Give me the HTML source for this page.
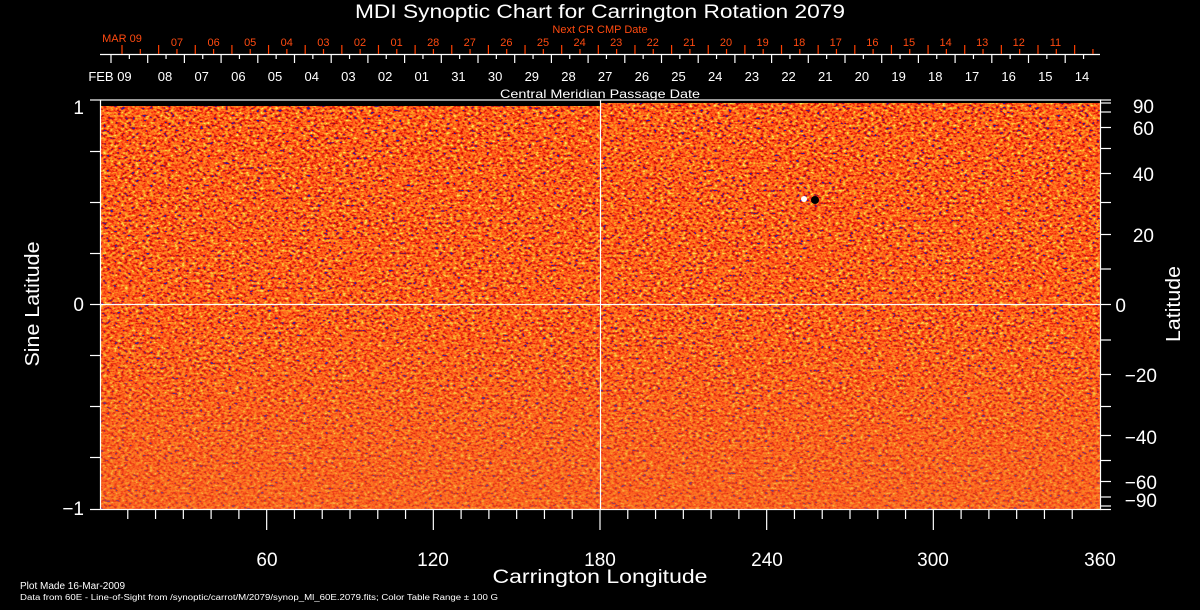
<!DOCTYPE html>
<html><head><meta charset="utf-8"><style>
html,body{margin:0;padding:0;background:#000;}
svg{display:block;}
text{font-family:"Liberation Sans",sans-serif;}
</style></head><body>
<svg width="1200" height="610" viewBox="0 0 1200 610" xmlns="http://www.w3.org/2000/svg">
<defs>
<filter id="tex" x="100" y="100" width="1000" height="410" filterUnits="userSpaceOnUse" color-interpolation-filters="sRGB">
<feTurbulence type="fractalNoise" baseFrequency="0.28 0.4" numOctaves="2" seed="7" result="n"/>
<feColorMatrix in="n" type="matrix" values="1.9 0 0 0 -0.45  1.9 0 0 0 -0.45  1.9 0 0 0 -0.45  0 0 0 0 1" result="g"/>
<feComponentTransfer in="g">
<feFuncR type="discrete" tableValues="0.15 0.6 0.82 0.88 0.92 0.95 1 1 1 1 1 1 1 0.98 0.95 1"/>
<feFuncG type="discrete" tableValues="0.1 0.05 0.05 0.1 0.15 0.2 0.27 0.33 0.4 0.45 0.5 0.55 0.6 0.68 0.76 0.88"/>
<feFuncB type="discrete" tableValues="0.7 0.08 0.03 0.04 0.05 0.06 0.08 0.1 0.1 0.12 0.12 0.12 0.14 0.15 0.18 0.35"/>
</feComponentTransfer>
</filter>
<linearGradient id="bot" x1="0" y1="0" x2="0" y2="1">
<stop offset="0" stop-color="#f06a28" stop-opacity="0"/>
<stop offset="0.55" stop-color="#f06a28" stop-opacity="0.1"/>
<stop offset="1" stop-color="#f56a28" stop-opacity="0.5"/>
</linearGradient>
</defs>

<rect x="100" y="100" width="1000" height="409" fill="#e85a20" filter="url(#tex)"/>
<rect x="100" y="100" width="1000" height="409" fill="url(#bot)"/>
<rect x="100" y="100" width="500" height="6" fill="#000"/>
<rect x="600" y="100" width="500" height="3" fill="#000"/>
<circle cx="804" cy="199" r="3" fill="#fff"/>
<circle cx="815" cy="200" r="4" fill="#000"/>

<g stroke="#fff" stroke-width="1.2" fill="none">
<rect x="100.5" y="100" width="1000" height="409.5"/>
<line x1="600.5" y1="100" x2="600.5" y2="509"/>
<line x1="100" y1="304.5" x2="1100" y2="304.5"/>
<line x1="90" y1="100" x2="100" y2="100"/>
<line x1="90" y1="151.5" x2="100" y2="151.5"/>
<line x1="90" y1="202.5" x2="100" y2="202.5"/>
<line x1="90" y1="253.5" x2="100" y2="253.5"/>
<line x1="90" y1="304.5" x2="100" y2="304.5"/>
<line x1="90" y1="355.5" x2="100" y2="355.5"/>
<line x1="90" y1="406.5" x2="100" y2="406.5"/>
<line x1="90" y1="457.5" x2="100" y2="457.5"/>
<line x1="90" y1="509.5" x2="100" y2="509.5"/>
<line x1="1100" y1="100" x2="1111" y2="100"/>
<line x1="1100" y1="103" x2="1111" y2="103"/>
<line x1="1100" y1="112" x2="1111" y2="112"/>
<line x1="1100" y1="127.5" x2="1111" y2="127.5"/>
<line x1="1100" y1="148.5" x2="1111" y2="148.5"/>
<line x1="1100" y1="173.5" x2="1111" y2="173.5"/>
<line x1="1100" y1="202.5" x2="1111" y2="202.5"/>
<line x1="1100" y1="234.5" x2="1111" y2="234.5"/>
<line x1="1100" y1="269" x2="1111" y2="269"/>
<line x1="1100" y1="304.5" x2="1111" y2="304.5"/>
<line x1="1100" y1="340" x2="1111" y2="340"/>
<line x1="1100" y1="374.5" x2="1111" y2="374.5"/>
<line x1="1100" y1="406.5" x2="1111" y2="406.5"/>
<line x1="1100" y1="435.5" x2="1111" y2="435.5"/>
<line x1="1100" y1="460.5" x2="1111" y2="460.5"/>
<line x1="1100" y1="481.5" x2="1111" y2="481.5"/>
<line x1="1100" y1="497" x2="1111" y2="497"/>
<line x1="1100" y1="506" x2="1111" y2="506"/>
<line x1="1100" y1="509.5" x2="1111" y2="509.5"/>
<line x1="100" y1="54.5" x2="1100" y2="54.5"/>
</g>
<g id="bt" stroke="#fff" stroke-width="1.2"></g>
<g id="tw" stroke="#fff" stroke-width="1.2"></g>
<g id="tr" stroke="#ff4000" stroke-width="1.2"></g>
<g id="labs" fill="#fff" font-size="13"></g>
<g id="rlabs" fill="#ff4a10" font-size="11"></g>

<text x="600" y="18" fill="#fff" font-size="19" text-anchor="middle" textLength="490" lengthAdjust="spacingAndGlyphs">MDI Synoptic Chart for Carrington Rotation 2079</text>
<text x="600" y="33" fill="#ff4a10" font-size="11" text-anchor="middle">Next CR CMP Date</text>
<text x="122" y="42" fill="#ff4a10" font-size="11" text-anchor="middle">MAR 09</text>
<text x="110" y="81" fill="#fff" font-size="13" text-anchor="middle">FEB 09</text>
<text x="600" y="98" fill="#fff" font-size="12" text-anchor="middle" textLength="200" lengthAdjust="spacingAndGlyphs">Central Meridian Passage Date</text>

<g fill="#fff" font-size="19" text-anchor="end">
<text x="84" y="114">1</text>
<text x="84" y="311">0</text>
<text x="84" y="515">−1</text>
</g>
<text transform="translate(39,304) rotate(-90)" fill="#fff" font-size="20" text-anchor="middle" textLength="125" lengthAdjust="spacingAndGlyphs">Sine Latitude</text>
<g fill="#fff" font-size="19" text-anchor="end">
<text x="1154" y="113">90</text>
<text x="1154" y="135">60</text>
<text x="1154" y="181">40</text>
<text x="1154" y="242">20</text>
<text x="1126" y="312">0</text>
<text x="1157" y="382">−20</text>
<text x="1157" y="444">−40</text>
<text x="1157" y="489">−60</text>
<text x="1157" y="507">−90</text>
</g>
<text transform="translate(1180,304) rotate(-90)" fill="#fff" font-size="20" text-anchor="middle" textLength="76" lengthAdjust="spacingAndGlyphs">Latitude</text>
<g fill="#fff" font-size="19" text-anchor="middle">
<text x="267" y="566">60</text>
<text x="433" y="566">120</text>
<text x="600" y="566">180</text>
<text x="767" y="566">240</text>
<text x="933" y="566">300</text>
<text x="1100" y="566">360</text>
</g>
<text x="600" y="583" fill="#fff" font-size="19" text-anchor="middle" textLength="215" lengthAdjust="spacingAndGlyphs">Carrington Longitude</text>
<text x="20" y="589" fill="#fff" font-size="10">Plot Made 16-Mar-2009</text>
<text x="20" y="600" fill="#fff" font-size="8" textLength="478" lengthAdjust="spacingAndGlyphs">Data from 60E - Line-of-Sight from /synoptic/carrot/M/2079/synop_Ml_60E.2079.fits; Color Table Range ± 100 G</text>
</svg>
<script>
var NS="http://www.w3.org/2000/svg";
function L(g,x1,y1,x2,y2){var l=document.createElementNS(NS,"line");l.setAttribute("x1",x1);l.setAttribute("y1",y1);l.setAttribute("x2",x2);l.setAttribute("y2",y2);document.getElementById(g).appendChild(l);}
function T(g,x,y,s){var t=document.createElementNS(NS,"text");t.setAttribute("x",x);t.setAttribute("y",y);t.setAttribute("text-anchor","middle");t.textContent=s;document.getElementById(g).appendChild(t);}
for(var i=1;i<36;i++){var x=100+i*1000/36;L("bt",x,509,x,(i%6==0)?530:519);}
var wl=["08","07","06","05","04","03","02","01","31","30","29","28","27","26","25","24","23","22","21","20","19","18","17","16","15","14"];
for(var k=0;k<27;k++){var x=111+k*36.7;if(x<=1100)L("tw",x,54,x,63);var xs=x+18.35;if(xs<1100)L("tw",xs,54,xs,59);}
for(var k=0;k<wl.length;k++)T("labs",165+k*36.68,81,wl[k]);
var rl=["07","06","05","04","03","02","01","28","27","26","25","24","23","22","21","20","19","18","17","16","15","14","13","12","11"];
for(var k=0;k<27;k++){var x=122+k*36.64;if(x<=1100)L("tr",x,54,x,45);var xs=x+18.3;if(xs<1100)L("tr",xs,54,xs,49);}
for(var k=0;k<rl.length;k++)T("rlabs",177+k*36.6,46,rl[k]);
</script>
</body></html>
